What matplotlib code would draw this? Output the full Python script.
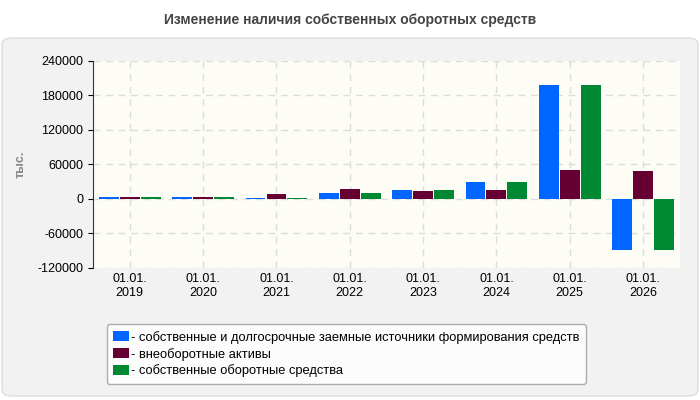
import matplotlib
matplotlib.use("Agg")
import matplotlib.pyplot as plt
from matplotlib.patches import FancyBboxPatch
import numpy as np

categories = ["01.01.\n2019", "01.01.\n2020", "01.01.\n2021", "01.01.\n2022",
              "01.01.\n2023", "01.01.\n2024", "01.01.\n2025", "01.01.\n2026"]
own_long = [3000, 3000, 1000, 10000, 15000, 29000, 198000, -88000]
noncurrent = [3000, 3000, 8000, 17000, 13000, 15000, 50000, 48000]
own_working = [3000, 3000, 1000, 10000, 15000, 29000, 198000, -88000]
series_names = ["- собственные и долгосрочные заемные источники формирования средств",
                "- внеоборотные активы",
                "- собственные оборотные средства"]
colors = ["#0066ff", "#660033", "#008833"]
yticks = [-120000, -60000, 0, 60000, 120000, 180000, 240000]

plt.rcParams['font.family'] = ['Liberation Sans', 'DejaVu Sans']
fig = plt.figure(figsize=(7, 4), dpi=100)
fig.patch.set_facecolor("white")
panel = FancyBboxPatch((0.003, 0.01), 0.994, 0.895, boxstyle="round,pad=0,rounding_size=0.015",
                       transform=fig.transFigure, facecolor="#f2f2f2", edgecolor="#dddddd", lw=1,
                       zorder=-10)
fig.patches.append(panel)
fig.text(0.5, 0.95, "Изменение наличия собственных оборотных средств", ha="center", va="center",
         fontsize=10, fontweight="bold", color="#444444")

ax = fig.add_axes([0.133, 0.33, 0.838, 0.518])
ax.set_zorder(1)
ax.set_facecolor("#fdfdf5")
x = np.arange(len(categories))
w = 0.27
for i, (vals, c, n) in enumerate(zip([own_long, noncurrent, own_working], colors, series_names)):
    ax.bar(x + (i - 1) * (w + 0.015), vals, w, color=c, label=n, zorder=3)
ax.set_xlim(-0.5, len(categories) - 0.5)
ax.set_ylim(-120000, 240000)
ax.set_yticks(yticks)
ax.set_yticklabels([str(v) for v in yticks], fontsize=9)
ax.set_xticks(x)
ax.set_xticklabels(categories, fontsize=9)
ax.tick_params(axis="x", length=0)
ax.grid(True, ls=(0, (5, 4)), color="#dddddd", lw=1, zorder=0)
for s in ["top", "right", "bottom"]:
    ax.spines[s].set_visible(False)
ax.spines["left"].set_color("#333333")
ax.set_ylabel("тыс.", fontsize=9, color="#888888", fontweight="bold", labelpad=8)

leg = fig.legend(loc="upper left", bbox_to_anchor=(0.143, 0.205), fontsize=9.3, frameon=True,
                 handlelength=1.2, handleheight=0.8, borderpad=0.5, labelspacing=0.3,
                 handletextpad=0.2, fancybox=True)
leg.set_zorder(2)
leg.get_frame().set_edgecolor("#999999")
leg.get_frame().set_facecolor("white")
fig.savefig("out.png", dpi=100)
